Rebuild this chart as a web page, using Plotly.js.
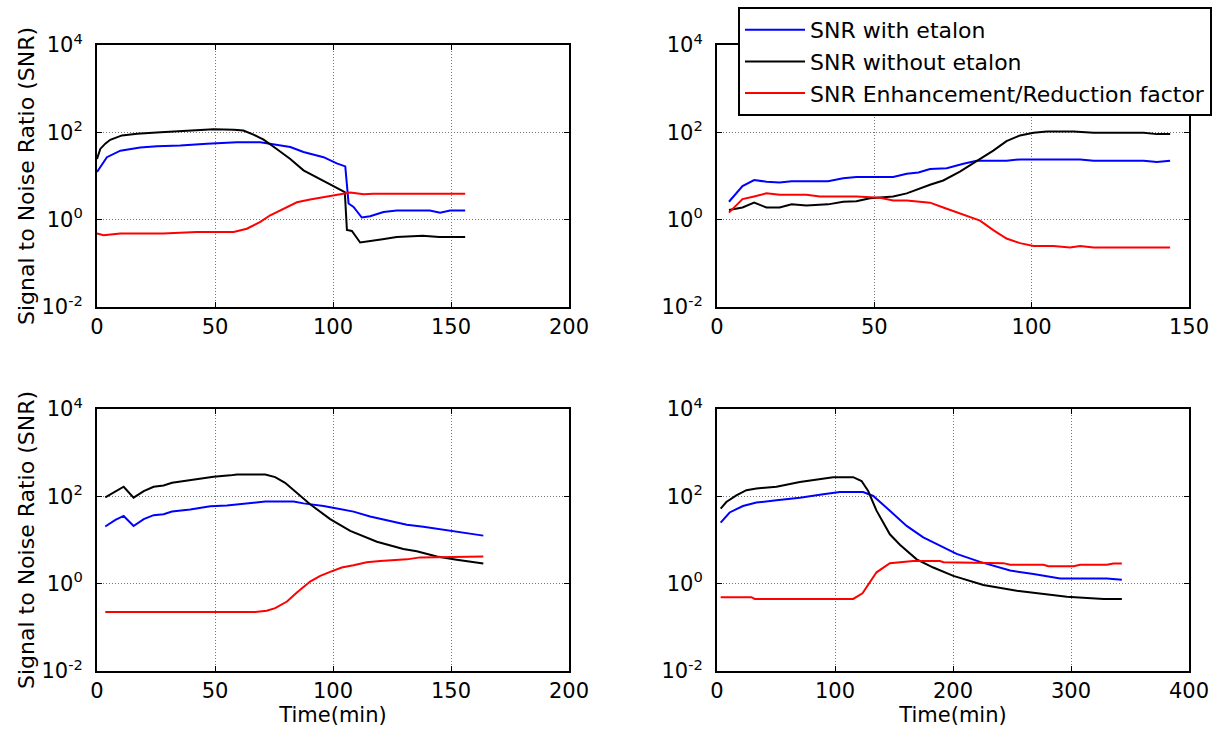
<!DOCTYPE html>
<html>
<head>
<meta charset="utf-8">
<script src="https://cdn.plot.ly/plotly-3.0.1.min.js"></script>
<style>html,body{margin:0;padding:0;background:#fff;}#chart{width:1221px;height:731px;}</style>
</head>
<body>
<div id="chart"></div>
<script>
// ---------- Data (time in min, SNR linear values) ----------
// Panel 1 (top-left)
const p1WithT = [0, 4.2, 9.9, 18.3, 25.4, 35.3, 46.6, 59.3, 69.2, 76.2, 81.9, 87.5, 96, 101.6, 105.2, 106.6, 108.7, 112.2, 115.7, 121.4, 127, 141, 145.4, 149.6, 156];
const p1WithV = [12.3, 27, 38, 45, 48, 50, 55, 59, 59, 52.5, 46, 35.5, 27, 19.5, 16.6, 2.35, 1.95, 1.12, 1.2, 1.5, 1.62, 1.62, 1.45, 1.62, 1.62];
const p1WithoutT = [0, 1.4, 3.5, 5.6, 10.6, 17, 27, 38, 49.4, 58, 62, 66.3, 70.6, 76, 81.9, 87.5, 93, 98.8, 105, 105.9, 108, 111.5, 115.7, 121, 127, 138, 145, 156];
const p1WithoutV = [24.5, 41.7, 55, 67.6, 85, 93, 100, 110, 117, 115, 110, 89, 68, 42, 24.5, 13.5, 9.3, 6.5, 4.3, 0.58, 0.55, 0.30, 0.32, 0.355, 0.40, 0.43, 0.40, 0.40];
const p1FactorT = [0, 2.8, 9.9, 28, 42.3, 57.9, 63.5, 69.2, 73.4, 79, 84.7, 90.3, 96, 101.6, 107.3, 113, 117, 156];
const p1FactorV = [0.48, 0.44, 0.48, 0.48, 0.525, 0.525, 0.62, 0.89, 1.26, 1.78, 2.5, 2.9, 3.3, 3.8, 4.2, 3.8, 3.9, 3.9];

// Panel 2 (top-right)
const p2WithT = [3.8, 8.1, 11.8, 15.7, 19.9, 23.7, 35.3, 40.1, 44.3, 56, 60.3, 64, 67.7, 73, 78.3, 82.5, 92, 96.3, 115.4, 119.7, 135.6, 139.8, 144];
const p2WithV = [2.57, 5.9, 8.1, 7.4, 7.1, 7.6, 7.6, 8.9, 9.5, 9.5, 11.2, 12, 14.5, 15.1, 19, 22.4, 22.4, 24, 24, 22.4, 22.4, 20.9, 22.4];
const p2WithoutT = [3.8, 8.1, 11.8, 15.7, 19.9, 23.7, 28.4, 35.3, 40.1, 44.3, 48.6, 56, 60.3, 64.5, 67.7, 71.9, 77.2, 82.5, 87.8, 92, 96.3, 100.6, 104.8, 113.3, 119.7, 135.6, 139.8, 144];
const p2WithoutV = [1.66, 1.9, 2.45, 1.9, 1.9, 2.24, 2.1, 2.24, 2.57, 2.63, 3.1, 3.4, 4.0, 5.25, 6.3, 7.9, 12.6, 21.9, 38, 63, 85, 98, 105, 105, 98, 98, 91, 91];
const p2FactorT = [3.8, 8.1, 11.8, 15.7, 19.9, 28.4, 32.7, 44.3, 51.8, 56, 60.3, 67.7, 71.9, 78.3, 83.6, 87.8, 92, 96.3, 100.6, 106.9, 112.2, 115.4, 119.7, 144];
const p2FactorV = [1.45, 2.95, 3.4, 4.0, 3.7, 3.7, 3.4, 3.4, 3.16, 2.75, 2.75, 2.45, 1.9, 1.29, 0.95, 0.575, 0.37, 0.29, 0.25, 0.25, 0.23, 0.25, 0.23, 0.23];

// Panel 3 (bottom-left)
const p3WithT = [3.5, 7.8, 11.3, 15.5, 19.8, 24, 28.2, 31.8, 39.5, 48, 55, 63.5, 71.3, 83.3, 87.5, 96, 103, 108.7, 115.7, 124.2, 131.3, 138.3, 149.6, 163.7];
const p3WithV = [20.4, 28.8, 35.5, 20.9, 30, 37, 39, 44.7, 50, 59, 62, 69, 76, 76, 69, 60, 50, 44.7, 34.7, 27.5, 22.4, 20, 16.2, 12.6];
const p3WithoutT = [3.5, 7.8, 11.3, 15.5, 19.8, 24, 28.2, 31.8, 39.5, 49.4, 56.5, 59.3, 71.3, 75.5, 79.7, 84.7, 90.3, 98.8, 107.3, 118.6, 129.8, 135.5, 144, 152.4, 163.7];
const p3WithoutV = [95, 132, 166, 93, 132, 166, 178, 204, 234, 282, 302, 316, 316, 275, 204, 120, 66, 30, 16.2, 9.1, 6.2, 5.5, 4.2, 3.55, 2.9];
const p3FactorT = [3.5, 67, 71.9, 75.5, 80.5, 84.7, 90.3, 94.6, 98.8, 103.7, 108.7, 114.3, 120, 131.3, 136.9, 163.7];
const p3FactorV = [0.224, 0.224, 0.24, 0.275, 0.39, 0.63, 1.12, 1.51, 1.86, 2.34, 2.63, 3.1, 3.3, 3.6, 4.0, 4.2];

// Panel 4 (bottom-right)
const p4WithT = [3.1, 10.7, 22, 33.4, 50.4, 70.2, 90, 104.1, 123.9, 132.4, 146.5, 160.7, 174.8, 189, 203.1, 222.9, 248.4, 268.2, 290.8, 330.4, 343.1];
const p4WithV = [25, 42.7, 60, 72, 81, 93, 112, 126, 126, 102, 47, 21, 11.5, 7.4, 4.8, 3.16, 2.0, 1.66, 1.32, 1.32, 1.23];
const p4WithoutT = [3.1, 7.9, 16.4, 24.9, 33.4, 50.4, 70.2, 84.3, 98.4, 115.4, 122.5, 128.1, 135.2, 146.5, 155, 169.2, 183.3, 200.3, 225.7, 254, 282.3, 296.5, 327.6, 343.1];
const p4WithoutV = [52.5, 74, 105, 138, 151, 166, 214, 240, 275, 275, 224, 132, 47, 13.5, 7.8, 3.6, 2.34, 1.51, 0.93, 0.69, 0.55, 0.50, 0.447, 0.447];
const p4FactorT = [3.1, 29.1, 32, 115.4, 123.3, 129.6, 135.2, 146.5, 155, 166.3, 189, 192, 242.7, 248.4, 276.7, 280.9, 302.1, 307.8, 330.4, 336, 343.1];
const p4FactorV = [0.49, 0.49, 0.447, 0.447, 0.60, 1.12, 1.82, 2.95, 3.1, 3.3, 3.3, 3.1, 2.95, 2.7, 2.7, 2.5, 2.5, 2.7, 2.7, 2.9, 2.9];

const seriesNames = ['SNR with etalon', 'SNR without etalon', 'SNR Enhancement/Reduction factor'];
const seriesColors = ['#0000ff', '#000000', '#ff0000'];
const yTickVals = [0.01, 1, 100, 10000];
const yTickText = ['10<sup>-2</sup>', '10<sup>0</sup>', '10<sup>2</sup>', '10<sup>4</sup>'];
const xTicks1 = [0, 50, 100, 150, 200];
const xTicks2 = [0, 50, 100, 150];
const xTicks4 = [0, 100, 200, 300, 400];

// ---------- Build ----------
const panels = [
  {ax: '', data: [[p1WithT, p1WithV], [p1WithoutT, p1WithoutV], [p1FactorT, p1FactorV]]},
  {ax: '2', data: [[p2WithT, p2WithV], [p2WithoutT, p2WithoutV], [p2FactorT, p2FactorV]]},
  {ax: '3', data: [[p3WithT, p3WithV], [p3WithoutT, p3WithoutV], [p3FactorT, p3FactorV]]},
  {ax: '4', data: [[p4WithT, p4WithV], [p4WithoutT, p4WithoutV], [p4FactorT, p4FactorV]]}
];
const traces = [];
panels.forEach((p, pi) => {
  p.data.forEach((d, si) => {
    traces.push({
      type: 'scatter', mode: 'lines',
      x: d[0], y: d[1],
      xaxis: 'x' + p.ax, yaxis: 'y' + p.ax,
      name: seriesNames[si],
      legendgroup: 'g' + si,
      showlegend: pi === 0,
      line: {color: seriesColors[si], width: 2}
    });
  });
});

const W = 1221, H = 731;
const FONT = 'DejaVu Sans, Liberation Sans, Arial, sans-serif';
const xl = [97 / W, 569 / W], xr = [717 / W, 1189 / W];
const yt = [(H - 307) / H, (H - 45) / H], yb = [(H - 671) / H, (H - 409) / H];
const GRID = {showgrid: true, gridcolor: '#777', griddash: '1px,2px', gridwidth: 1};

function xAxis(domain, anchor, range, ticks, title) {
  const a = Object.assign({
    domain: domain, anchor: anchor, range: range, tickvals: ticks,
    ticktext: ticks.map(String),
    showline: true, linecolor: '#000', linewidth: 2, mirror: 'ticks',
    ticks: 'inside', ticklen: 5, tickcolor: '#000', tickwidth: 1,
    zeroline: false, automargin: false,
    tickfont: {family: FONT, size: 21, color: '#000'}
  }, GRID);
  if (title) a.title = {text: title, font: {family: FONT, size: 21, color: '#000'}, standoff: 0};
  return a;
}
function yAxis(domain, anchor, title) {
  const a = Object.assign({
    domain: domain, anchor: anchor, type: 'log', range: [-2, 4],
    tickvals: yTickVals, ticktext: yTickText,
    showline: true, linecolor: '#000', linewidth: 2, mirror: 'ticks',
    ticks: 'inside', ticklen: 5, tickcolor: '#000', tickwidth: 1,
    ticklabelstandoff: 8,
    zeroline: false, automargin: false,
    tickfont: {family: FONT, size: 21, color: '#000'}
  }, GRID);
  if (title) a.title = {text: title, font: {family: FONT, size: 22, color: '#000'}, standoff: 1};
  return a;
}

const layout = {
  width: W, height: H,
  margin: {l: 0, r: 0, t: 0, b: 0},
  paper_bgcolor: '#fff', plot_bgcolor: '#fff',
  font: {family: FONT, size: 21, color: '#000'},
  showlegend: true,
  xaxis: xAxis(xl, 'y', [0, 200], xTicks1),
  yaxis: yAxis(yt, 'x', 'Signal to Noise Ratio (SNR)'),
  xaxis2: xAxis(xr, 'y2', [0, 150], xTicks2),
  yaxis2: yAxis(yt, 'x2'),
  xaxis3: xAxis(xl, 'y3', [0, 200], xTicks1, 'Time(min)'),
  yaxis3: yAxis(yb, 'x3', 'Signal to Noise Ratio (SNR)'),
  xaxis4: xAxis(xr, 'y4', [0, 400], xTicks4, 'Time(min)'),
  yaxis4: yAxis(yb, 'x4'),
  legend: {
    x: 738 / W, y: 1 - 7 / H, xanchor: 'left', yanchor: 'top',
    bgcolor: '#fff', bordercolor: '#000', borderwidth: 2,
    font: {family: FONT, size: 22, color: '#000'},
    traceorder: 'grouped', tracegroupgap: 0, itemwidth: 60
  }
};

Plotly.newPlot('chart', traces, layout, {displayModeBar: false, staticPlot: true});
</script>
</body>
</html>
